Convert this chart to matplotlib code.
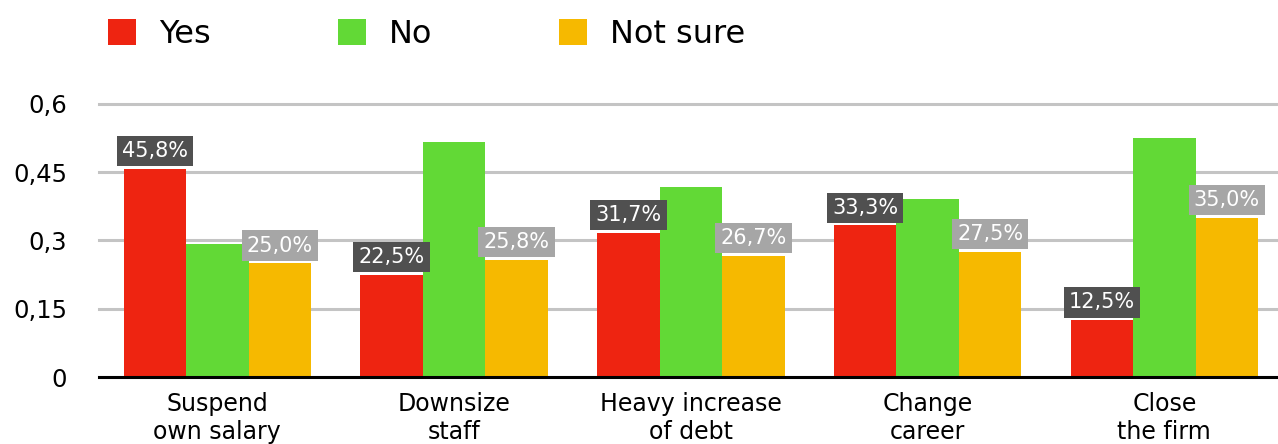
import matplotlib
matplotlib.use("Agg")
import matplotlib.pyplot as plt
import numpy as np

categories = ["Suspend\nown salary", "Downsize\nstaff", "Heavy increase\nof debt", "Change\ncareer", "Close\nthe firm"]
series_names = ["Yes", "No", "Not sure"]
yes_vals = [0.458, 0.225, 0.317, 0.333, 0.125]
no_vals = [0.292, 0.517, 0.417, 0.392, 0.525]
notsure_vals = [0.250, 0.258, 0.267, 0.275, 0.350]
yticks = [0, 0.15, 0.3, 0.45, 0.6]
ytick_labels = ["0", "0,15", "0,3", "0,45", "0,6"]

colors = ["#EE2411", "#62D936", "#F6B900"]
label_bg = {0: "#505050", 2: "#A6A6A6"}

plt.rcParams['font.family'] = ['DejaVu Sans']

fig = plt.figure(figsize=(12.78, 4.44), dpi=100)
ax = fig.add_axes([99/1278, 67/444, 1179/1278, 273/444])

x = np.arange(len(categories))
w = 0.264
all_vals = [yes_vals, no_vals, notsure_vals]
bars = []
for i, vals in enumerate(all_vals):
    b = ax.bar(x + (i - 1) * w, vals, width=w, color=colors[i], label=series_names[i], zorder=3)
    bars.append(b)
    if i in label_bg:
        for xi, v in zip(x + (i - 1) * w, vals):
            ax.annotate(f"{v*100:.1f}%".replace(".", ","), xy=(xi, v), xytext=(0, 5.5),
                        textcoords="offset points", ha="center", va="bottom",
                        color="white", fontsize=15, zorder=5,
                        bbox=dict(boxstyle="square,pad=0.25", fc=label_bg[i], ec="none"))

ax.set_xlim(-0.5, 4.48)
ax.set_ylim(0, 0.6)
ax.set_yticks(yticks)
ax.set_yticklabels(ytick_labels, fontsize=17.5)
ax.set_xticks(x)
ax.set_xticklabels(categories, fontsize=17, linespacing=1.2)
ax.tick_params(axis='y', length=0, pad=23)
ax.tick_params(axis='x', length=0, pad=11)
ax.yaxis.grid(True, color="#C4C4C4", linewidth=2.2, zorder=0)
ax.set_axisbelow(True)
for s in ["top", "right", "left"]:
    ax.spines[s].set_visible(False)
ax.spines["bottom"].set_linewidth(2.2)
ax.spines["bottom"].set_zorder(4)
for gl in ax.get_ygridlines():
    gl.set_clip_on(False)

fig.legend(handles=bars, labels=series_names, loc="upper left", bbox_to_anchor=(86/1278, 1.008),
           ncol=3, frameon=False, fontsize=23, handlelength=0.875, handleheight=0.875,
           handletextpad=0.72, columnspacing=3.97, borderaxespad=0.3)

fig.savefig("out.png", dpi=100)
